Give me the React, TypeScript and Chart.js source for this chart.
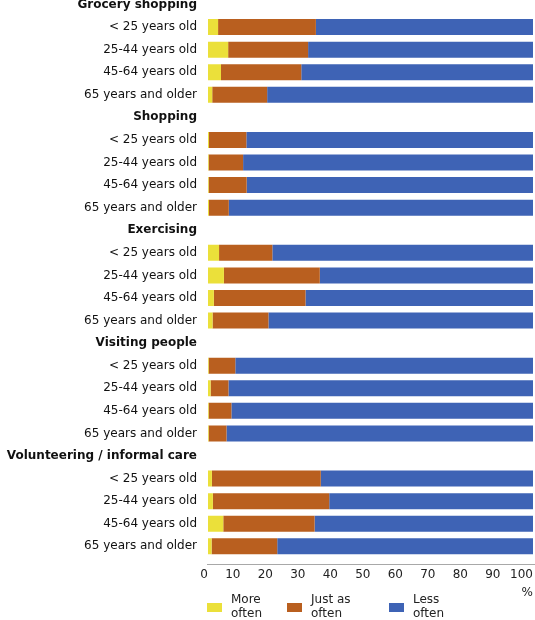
import React, { useEffect, useRef } from "react";
import { Chart, registerables } from "chart.js";

Chart.register(...registerables);

const activities = [
  "Grocery shopping",
  "Shopping",
  "Exercising",
  "Visiting people",
  "Volunteering / informal care",
];
const ageGroups = ["< 25 years old", "25-44 years old", "45-64 years old", "65 years and older"];

// per activity, 4 age groups each (in order of ageGroups)
const moreOften = [
  3.1, 6.2, 4.0, 1.3,
  0.3, 0.2, 0.2, 0.3,
  3.4, 4.9, 1.8, 1.4,
  0.2, 0.8, 0.2, 0.2,
  1.2, 1.5, 4.7, 1.1,
];
const justAsOften = [
  30.1, 24.6, 24.7, 16.9,
  11.5, 10.6, 11.7, 6.1,
  16.4, 29.5, 28.2, 17.2,
  8.2, 5.5, 7.0, 5.5,
  33.5, 35.8, 28.1, 20.2,
];
const lessOften = [
  66.8, 69.2, 71.3, 81.8,
  88.2, 89.2, 88.1, 93.6,
  80.2, 65.6, 70.0, 81.4,
  91.6, 93.7, 92.8, 94.3,
  65.3, 62.7, 67.2, 78.7,
];

const seriesNames = ["More often", "Just as often", "Less often"];
const seriesColors = ["#EBE03A", "#B95F1F", "#3E63B5"];
const unitLabel = "%";

const FONT = "'DejaVu Sans', Verdana, sans-serif";
const TEXT = "#222";

function buildRows(values: number[]) {
  const out: (number | null)[] = [];
  activities.forEach((_, a) => {
    out.push(null);
    ageGroups.forEach((_, g) => out.push(values[a * ageGroups.length + g]));
  });
  return out;
}

const labels: string[] = [];
activities.forEach((act) => {
  labels.push(act);
  ageGroups.forEach((g) => labels.push(g));
});

const axisLinePlugin = {
  id: "axisLine",
  afterDraw(chart: any) {
    const { ctx, chartArea } = chart;
    ctx.save();
    ctx.strokeStyle = "#a8a8a8";
    ctx.lineWidth = 1;
    const y = Math.round(chartArea.bottom + 6) + 0.5;
    ctx.beginPath();
    ctx.moveTo(chartArea.left - 1, y);
    ctx.lineTo(chartArea.right + 2, y);
    ctx.stroke();
    ctx.restore();
  },
};

export default function App() {
  const ref = useRef<HTMLCanvasElement>(null);

  useEffect(() => {
    if (!ref.current) return;
    const series = [moreOften, justAsOften, lessOften];
    const chart = new Chart(ref.current, {
      type: "bar",
      data: {
        labels,
        datasets: series.map((vals, i) => ({
          label: seriesNames[i],
          data: buildRows(vals),
          backgroundColor: seriesColors[i],
          borderWidth: 0,
          barPercentage: 0.71,
          categoryPercentage: 1.0,
        })),
      },
      options: {
        indexAxis: "y",
        responsive: false,
        animation: false,
        layout: { padding: { top: 33.2, bottom: 1, left: 0, right: 2 } },
        plugins: {
          legend: { display: false },
          tooltip: { enabled: false },
        },
        scales: {
          x: {
            type: "linear",
            stacked: true,
            min: 0,
            max: 100,
            grid: { display: false, drawTicks: false },
            border: { display: false },
            ticks: {
              stepSize: 10,
              align: "end",
              padding: 10,
              autoSkip: false,
              maxRotation: 0,
              color: TEXT,
              font: { family: FONT, size: 12 },
            },
          },
          y: {
            type: "category",
            stacked: true,
            grid: { display: false, drawTicks: false },
            border: { display: false },
            ticks: {
              padding: 11,
              autoSkip: false,
              color: "#111",
              font: (c: any) => ({
                family: FONT,
                size: 12,
                weight: c.index % 5 === 0 ? "bold" : "normal",
              }),
            },
            afterFit: (s: any) => {
              s.width = 208;
            },
          },
        },
      },
      plugins: [axisLinePlugin],
    } as any);
    return () => chart.destroy();
  }, []);

  const legendPos = [
    { box: 207, text: 231 },
    { box: 287, text: 311 },
    { box: 389, text: 413 },
  ];

  return (
    <div
      style={{
        position: "fixed",
        top: 0,
        left: 0,
        width: 535,
        height: 620,
        overflow: "hidden",
        background: "#fff",
      }}
    >
      <div style={{ position: "absolute", top: -40, left: 0, width: 543, height: 633 }}>
        <canvas ref={ref} width={543} height={633} style={{ display: "block" }} />
      </div>
      <div
        style={{
          position: "absolute",
          right: 2,
          top: 585,
          fontFamily: FONT,
          fontSize: 12,
          lineHeight: "14px",
          color: TEXT,
        }}
      >
        {unitLabel}
      </div>
      {seriesNames.map((name, i) => (
        <React.Fragment key={name}>
          <div
            style={{
              position: "absolute",
              left: legendPos[i].box,
              top: 603,
              width: 15,
              height: 9,
              background: seriesColors[i],
            }}
          />
          <div
            style={{
              position: "absolute",
              left: legendPos[i].text,
              top: 592,
              width: 50,
              fontFamily: FONT,
              fontSize: 12,
              lineHeight: "14px",
              color: TEXT,
            }}
          >
            {name}
          </div>
        </React.Fragment>
      ))}
    </div>
  );
}
